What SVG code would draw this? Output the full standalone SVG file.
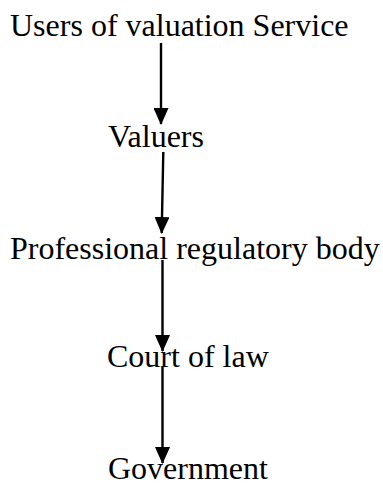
<svg xmlns="http://www.w3.org/2000/svg" width="383" height="485" viewBox="0 0 383 485">
  <style>
    .label { font-family: "Liberation Serif", "Times New Roman", serif; font-size: 32px; fill: #000; }
    .link { stroke: #000; stroke-width: 2.4; fill: none; }
  </style>
  <defs>
    <!-- solid triangular head, tip at the end of the line -->
    <marker id="arrow" viewBox="0 0 17 15" refX="16" refY="7.5" markerWidth="17" markerHeight="15" markerUnits="userSpaceOnUse" orient="auto">
      <path d="M0,0 L17,7.5 L0,15 Z" fill="#000"/>
    </marker>
  </defs>
  <rect width="383" height="485" fill="#fff"/>

  <g id="connectors">
    <line class="link" x1="161" y1="43" x2="161" y2="124" marker-end="url(#arrow)"/>
    <line class="link" x1="163.3" y1="152" x2="161.7" y2="233" marker-end="url(#arrow)"/>
    <line class="link" x1="162.5" y1="260" x2="162.5" y2="351" marker-end="url(#arrow)"/>
    <line class="link" x1="162.5" y1="367" x2="162.5" y2="463" marker-end="url(#arrow)"/>
  </g>

  <g id="users">
    <text class="label" x="10" y="36">Users of valuation Service</text>
  </g>
  <g id="valuers">
    <text class="label" x="108" y="147">Valuers</text>
  </g>
  <g id="regulatory-body">
    <text class="label" x="10" y="259">Professional regulatory body</text>
  </g>
  <g id="court">
    <text class="label" x="107" y="367">Court of law</text>
  </g>
  <g id="government">
    <text class="label" x="108" y="479">Government</text>
  </g>
</svg>
